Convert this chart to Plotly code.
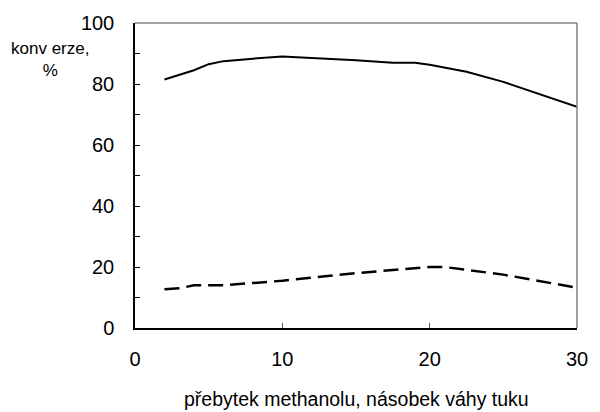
import plotly.graph_objects as go

# data
x_solid = [2, 4, 5, 6, 8, 10, 15, 17.5, 19, 20, 22.5, 25, 30]
y_solid = [81.5, 84.5, 86.5, 87.5, 88.3, 89, 87.8, 87, 87, 86.3, 84, 80.7, 72.5]
x_dash = [2, 3, 4, 5, 6, 10, 15, 17.5, 19, 20, 21, 22.5, 25, 30]
y_dash = [12.7, 13, 14, 14, 14, 15.5, 18, 19, 19.7, 20, 20, 19, 17.5, 13.2]
x_ticks = [0, 10, 20, 30]
y_ticks = [0, 20, 40, 60, 80, 100]
x_title = "přebytek methanolu, násobek váhy tuku"
y_title = "konv erze,<br>%"

FONT = "Liberation Sans, Arial, sans-serif"

fig = go.Figure()
fig.add_trace(go.Scatter(x=x_solid, y=y_solid, mode="lines",
                         line=dict(color="black", width=2), showlegend=False))
fig.add_trace(go.Scatter(x=x_dash, y=y_dash, mode="lines",
                         line=dict(color="black", width=2.5, dash="15px,7px"), showlegend=False))

fig.update_layout(
    width=600, height=412,
    margin=dict(l=135, r=14, t=22, b=84),
    paper_bgcolor="white", plot_bgcolor="white",
    font=dict(family=FONT, size=20, color="black"),
    xaxis=dict(range=[0, 30], tickvals=x_ticks, showgrid=False, zeroline=False,
               showline=True, linecolor="black", linewidth=1.5,
               ticks="inside", ticklen=5, tickcolor="#555", tickwidth=1,
               ticklabelstandoff=12),
    yaxis=dict(range=[0, 100], tickvals=y_ticks, showgrid=False, zeroline=False,
               showline=True, linecolor="black", linewidth=1.5,
               ticks="inside", ticklen=5, tickcolor="black", tickwidth=1,
               minor=dict(dtick=10, ticks="inside", ticklen=5, tickcolor="black", tickwidth=1),
               ticklabelstandoff=15),
    shapes=[
        dict(type="line", xref="x domain", yref="y domain", x0=0, x1=1, y0=1, y1=1,
             line=dict(color="#808080", width=1.5)),
        dict(type="line", xref="x domain", yref="y domain", x0=1, x1=1, y0=0, y1=1,
             line=dict(color="#808080", width=1.5)),
    ],
    annotations=[
        dict(text=x_title, xref="paper", yref="paper", x=0.5, y=-0.232,
             xanchor="center", yanchor="middle", showarrow=False,
             font=dict(family=FONT, size=19.5)),
        dict(text=y_title, xref="x domain", yref="y domain", x=-0.193, y=0.88,
             xanchor="center", yanchor="middle", showarrow=False,
             font=dict(family=FONT, size=17)),
    ],
)

fig.write_html("out.html")
